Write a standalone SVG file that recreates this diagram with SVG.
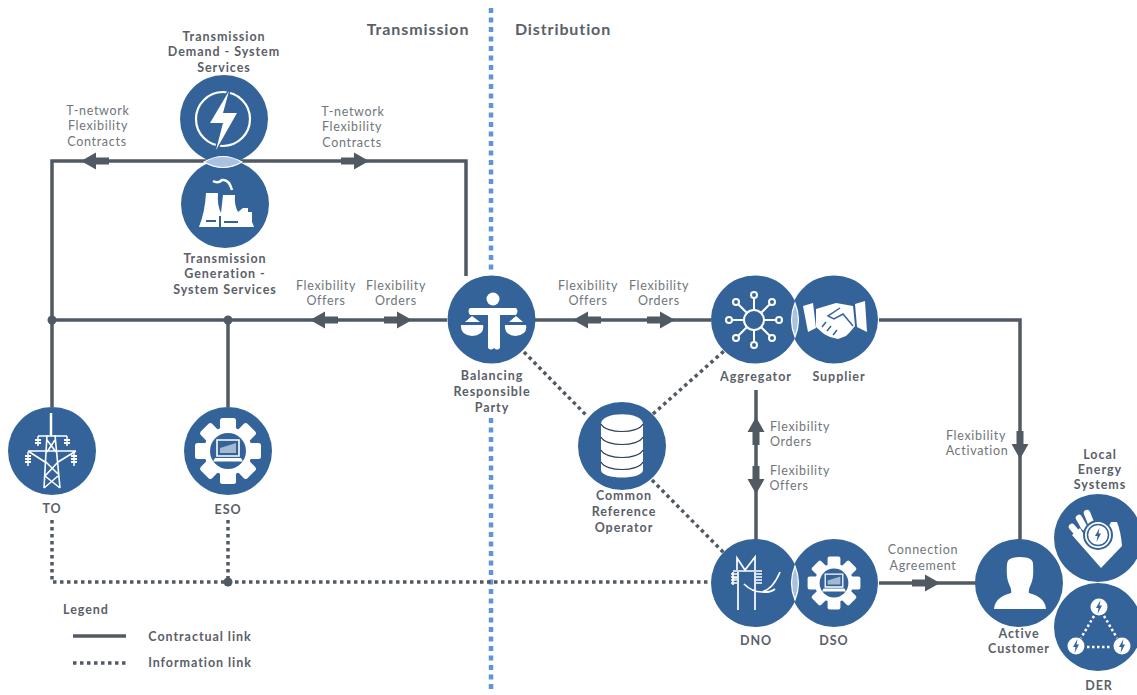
<svg xmlns="http://www.w3.org/2000/svg" xmlns:xlink="http://www.w3.org/1999/xlink" width="1137" height="695" viewBox="0 0 1137 695">
<style>
text{font-family:"Lato","Open Sans","Liberation Sans",sans-serif;text-anchor:middle}
.b{font-size:12.500px;font-weight:700;fill:#5a6068;letter-spacing:.95px}
.l{font-size:12.500px;fill:#70767c;letter-spacing:.7px}
.h{font-size:16px;font-weight:700;fill:#5a6068;letter-spacing:.9px}
.c{fill:#34639a}
.lens{fill:#a9c2e1;stroke:#fff;stroke-width:1.2}
.w{fill:#fff}
.bl{fill:#34639a}
.sw{fill:none;stroke:#fff;stroke-width:2;stroke-linecap:round;stroke-linejoin:round}
.link{fill:none;stroke:#515a63;stroke-width:3.5}
.info{fill:none;stroke:#515a63;stroke-width:3.5;stroke-dasharray:3.5 3.5}
.split{fill:none;stroke:#5f93da;stroke-width:4.5;stroke-dasharray:5 4.5}
.arr{fill:#515a63}
</style>
<defs>
<path id="arrow" d="M0,0L-15,-8.5V-3.5H-28V3.5H-15V8.5Z"/>
<g id="gear">
<g class="w">
<circle r="24"/>
<rect x="-8" y="-33" width="16" height="14" rx="2.500"/><rect x="-8" y="19" width="16" height="14" rx="2.500"/><rect x="-33" y="-8" width="14" height="16" rx="2.500"/><rect x="19" y="-8" width="14" height="16" rx="2.500"/>
<g transform="rotate(45)"><rect x="-8" y="-33" width="16" height="14" rx="2.500"/><rect x="-8" y="19" width="16" height="14" rx="2.500"/><rect x="-33" y="-8" width="14" height="16" rx="2.500"/><rect x="19" y="-8" width="14" height="16" rx="2.500"/></g>
</g>
<circle class="bl" r="18"/>
<path d="M-11,-11H11V5H-11Z" fill="none" stroke="#fff" stroke-width="1.6"/>
<path d="M-8,-3L8,-8V2H-8Z" fill="#fff" opacity=".55"/>
<path class="w" d="M-13,7H13L15,10.500H-15Z"/>
</g>
<path id="bolt" d="M1.500,-7L-3,1H-.5L-1.500,7L3,-1.500H.5Z"/>
</defs>
<rect width="1137" height="695" fill="#fff"/>

<g id="connectors">
<path class="split" d="M491,8V272"/>
<path class="split" d="M491,418V692"/>
<path class="link" d="M466,276V161H52V407"/>
<path class="link" d="M52,320H447"/>
<path class="link" d="M228,320V407"/>
<path class="link" d="M535,320H711"/>
<path class="link" d="M879,320H1020V540"/>
<path class="link" d="M756,390V540"/>
<path class="link" d="M879,583H976"/>
<path class="info" d="M52,520V582H711"/>
<path class="info" d="M228,520V582"/>
<path class="info" d="M524,352L587,416"/>
<path class="info" d="M653,414L724,351"/>
<path class="info" d="M652,480L724,553"/>
<circle class="arr" cx="52" cy="320" r="4.500"/>
<circle class="arr" cx="228" cy="320" r="4.500"/>
<circle class="arr" cx="228" cy="582" r="4.500"/>
<use class="arr" xlink:href="#arrow" href="#arrow" transform="translate(81,161) rotate(180)"/>
<use class="arr" xlink:href="#arrow" href="#arrow" transform="translate(369,161)"/>
<use class="arr" xlink:href="#arrow" href="#arrow" transform="translate(310,320) rotate(180)"/>
<use class="arr" xlink:href="#arrow" href="#arrow" transform="translate(412,320)"/>
<use class="arr" xlink:href="#arrow" href="#arrow" transform="translate(573,320) rotate(180)"/>
<use class="arr" xlink:href="#arrow" href="#arrow" transform="translate(675,320)"/>
<use class="arr" xlink:href="#arrow" href="#arrow" transform="translate(756,417) rotate(-90)"/>
<use class="arr" xlink:href="#arrow" href="#arrow" transform="translate(756,494) rotate(90)"/>
<use class="arr" xlink:href="#arrow" href="#arrow" transform="translate(1020,459) rotate(90)"/>
<use class="arr" xlink:href="#arrow" href="#arrow" transform="translate(940,583)"/>
</g>

<g id="node-demand">
<circle class="c" cx="224" cy="119" r="44"/>
<circle cx="223" cy="119" r="27" fill="none" stroke="#fff" stroke-width="2.200"/>
<path class="w" d="M229,91L210,123H223L216,150L237,113H223Z" stroke="#34639a" stroke-width="3" paint-order="stroke"/>
<text class="b"><tspan x="224" y="41">Transmission</tspan><tspan x="224" y="56">Demand - System</tspan><tspan x="224" y="72">Services</tspan></text>
</g>
<g id="node-generation">
<circle class="c" cx="225" cy="204" r="44"/>
<path class="w" d="M206,193H218Q217,205 221,213L223,195H235Q234,205 238,212L243,208H248V212H252L252,222L254,227H199Q205,212 206,193Z"/>
<path d="M213,181Q218,184 222,180Q229,179 232,190" fill="none" stroke="#fff" stroke-width="2.500"/>
<path class="bl" d="M206,220H216V222H206ZM224,221H238V223H224ZM219,216H221V227H219Z"/>
<text class="b"><tspan x="225" y="263">Transmission</tspan><tspan x="225" y="278">Generation -</tspan><tspan x="225" y="294">System Services</tspan></text>
</g>
<path class="lens" d="M204,162Q223,151 242,162Q223,173 204,162Z"/>

<g id="node-to">
<circle class="c" cx="52" cy="451" r="44"/>
<path d="M51,415V430M47,435L44,488M55,435L60,488M38,436H67M28,451H76M28,451L45,462M76,451L58,462M47,440L56,452M55,440L47,452M46,462L58,474M58,462L45,476M45,476L60,488M58,476L44,488" fill="none" stroke="#fff" stroke-width="1.600"/>
<path d="M51,413V436" stroke="#fff" stroke-width="2.500"/>
<path d="M38,436V446M67,436V446M28,452V466M74,452V466" stroke="#fff" stroke-width="1.500"/>
<path d="M35,440H41M35,443H41M64,440H70M64,443H70M25,456H31M25,459H31M25,462H31M71,456H77M71,459H77M71,462H77" stroke="#fff" stroke-width="1.800"/>
<text class="b" x="52" y="513">TO</text>
</g>
<g id="node-eso">
<circle class="c" cx="228" cy="451" r="44"/>
<use xlink:href="#gear" href="#gear" transform="translate(228,451)"/>
<text class="b" x="228" y="514">ESO</text>
</g>
<g id="node-brp">
<circle class="c" cx="491.500" cy="319.500" r="44"/>
<circle class="w" cx="493" cy="299" r="6.500"/>
<path class="w" d="M470,308H516Q519,311 516,315H500V348Q497,351 494,348Q491,351 488,348V315H470Q467,311 470,308Z"/>
<path class="w" d="M461,325H483Q485,335 472,336Q460,335 461,325ZM505,325H526Q528,335 515.500,336Q504,335 505,325Z"/>
<path class="w" d="M465,322L472,316L480,322ZM509,322L516,316L523,322Z"/>
<text class="b"><tspan x="492" y="380">Balancing</tspan><tspan x="492" y="396">Responsible</tspan><tspan x="492" y="412">Party</tspan></text>
</g>
<g id="node-cro">
<circle class="c" cx="622" cy="446" r="44"/>
<path class="w" d="M601,424C601,411 643,411 643,424V470C643,480 601,480 601,470Z"/>
<path d="M601,424C606,434 638,434 643,424M601,437C606,447 638,447 643,437M601,450C606,460 638,460 643,450M601,462C606,472 638,472 643,462" fill="none" stroke="#2f3f50" stroke-width="1.200"/>
<text class="b"><tspan x="624" y="500">Common</tspan><tspan x="624" y="516">Reference</tspan><tspan x="624" y="532">Operator</tspan></text>
</g>
<g id="node-aggregator">
<circle class="c" cx="755" cy="319.500" r="44"/>
<g class="sw" transform="translate(754,320)">
<circle r="10"/>
<path d="M10,0H22M-10,0H-22M0,10V22M0,-10V-22M7,7L15.500,15.500M-7,7L-15.500,15.500M7,-7L15.500,-15.500M-7,-7L-15.500,-15.500"/>
<circle cx="25" r="3"/><circle cx="-25" r="3"/><circle cy="25" r="3"/><circle cy="-25" r="3"/>
<circle cx="18" cy="18" r="3"/><circle cx="-18" cy="18" r="3"/><circle cx="18" cy="-18" r="3"/><circle cx="-18" cy="-18" r="3"/>
</g>
<text class="b" x="756" y="381">Aggregator</text>
</g>
<g id="node-supplier">
<circle class="c" cx="834" cy="319.500" r="44"/>
<path class="w" d="M803,306L813,303L816,328L808,332ZM855,304L865,301L867,332L857,327Z"/>
<path class="w" d="M816,309L826,306L836,303L853,306L855,326L850,332L846,336L838,339L830,337L824,334L816,327Z"/>
<path d="M840,308L828,316L834,319L843,314L853,326M822,327L826,322M827,331L831,326M833,335L837,330" fill="none" stroke="#34639a" stroke-width="1.500"/>
<text class="b" x="839" y="381">Supplier</text>
</g>
<path class="lens" d="M795,303Q788,320 795,337Q802,320 795,303Z"/>

<g id="node-dno">
<circle class="c" cx="755" cy="583" r="44"/>
<path d="M738,610V572M755,610V572M733,571H762M737,570V558L745,570L755,557V570M762,592Q773,589 780,572M744,584Q752,592 762,592Q770,593 775,589M733,572V585M733,578H737" fill="none" stroke="#fff" stroke-width="1.700"/>
<path d="M731,574H737M731,577H737M731,580H737M731,583H737M756,574H762M756,577H762M756,580H762M756,583H762" stroke="#fff" stroke-width="1.300"/>
<text class="b" x="756" y="645">DNO</text>
</g>
<g id="node-dso">
<circle class="c" cx="834" cy="583" r="44"/>
<use xlink:href="#gear" href="#gear" transform="translate(834,583) scale(.8)"/>
<text class="b" x="834" y="645">DSO</text>
</g>
<path class="lens" d="M795,566Q788,583 795,600Q802,583 795,566Z"/>

<g id="node-customer">
<circle class="c" cx="1019" cy="583" r="44"/>
<path class="w" d="M1007,564Q1007,557 1020,557Q1033,557 1033,564Q1034,578 1031,584Q1028,590 1029,593Q1045,597 1046,609H994Q995,597 1011,593Q1012,590 1009,584Q1006,578 1007,564Z"/>
<text class="b"><tspan x="1019" y="638">Active</tspan><tspan x="1019" y="653">Customer</tspan></text>
</g>
<g id="node-les">
<circle class="c" cx="1098" cy="538" r="44"/>
<path class="w" d="M1072,535L1101,568L1122,546Q1121,532 1117,522L1111,522L1107,530L1090,545L1080,528Z"/>
<path d="M1078,534L1072,527M1084,527L1079,518M1091,523L1087,513" stroke="#fff" stroke-width="6.500" stroke-linecap="round"/>
<circle class="w" cx="1098" cy="535" r="14" stroke="#34639a" stroke-width="2"/>
<circle cx="1098" cy="535" r="10.500" fill="none" stroke="#34639a" stroke-width="1.500"/>
<use class="bl" xlink:href="#bolt" href="#bolt" transform="translate(1098,535)"/>
<text class="b"><tspan x="1100" y="459">Local</tspan><tspan x="1100" y="474">Energy</tspan><tspan x="1100" y="489">Systems</tspan></text>
</g>
<g id="node-der">
<circle class="c" cx="1098" cy="627" r="44"/>
<path d="M1094,616L1081,638M1104,616L1117,638M1087,647H1112" fill="none" stroke="#fff" stroke-width="2.500" stroke-dasharray="2.500 2.500"/>
<circle class="w" cx="1099" cy="607" r="8.500"/><circle class="w" cx="1076" cy="646" r="8.500"/><circle class="w" cx="1122" cy="646" r="8.500"/>
<use class="bl" xlink:href="#bolt" href="#bolt" transform="translate(1099,607)"/>
<use class="bl" xlink:href="#bolt" href="#bolt" transform="translate(1076,646)"/>
<use class="bl" xlink:href="#bolt" href="#bolt" transform="translate(1122,646)"/>
<text class="b" x="1099" y="690">DER</text>
</g>

<g id="labels">
<text class="h" x="418" y="35">Transmission</text>
<text class="h" x="563" y="35">Distribution</text>
<text class="l"><tspan x="98" y="115">T-network</tspan><tspan x="98" y="130">Flexibility</tspan><tspan x="97" y="146">Contracts</tspan></text>
<text class="l"><tspan x="353" y="116">T-network</tspan><tspan x="352" y="131">Flexibility</tspan><tspan x="352" y="147">Contracts</tspan></text>
<text class="l"><tspan x="326" y="290">Flexibility</tspan><tspan x="326" y="305">Offers</tspan></text>
<text class="l"><tspan x="396" y="290">Flexibility</tspan><tspan x="396" y="305">Orders</tspan></text>
<text class="l"><tspan x="588" y="290">Flexibility</tspan><tspan x="588" y="305">Offers</tspan></text>
<text class="l"><tspan x="659" y="290">Flexibility</tspan><tspan x="659" y="305">Orders</tspan></text>
<text class="l"><tspan x="800" y="431">Flexibility</tspan><tspan x="791" y="446">Orders</tspan></text>
<text class="l"><tspan x="800" y="475">Flexibility</tspan><tspan x="789" y="490">Offers</tspan></text>
<text class="l"><tspan x="976" y="440">Flexibility</tspan><tspan x="977" y="455">Activation</tspan></text>
<text class="l"><tspan x="923" y="554">Connection</tspan><tspan x="923" y="570">Agreement</tspan></text>
</g>

<g id="legend">
<text class="b" x="86" y="614">Legend</text>
<path class="link" d="M73,636H126"/>
<path class="info" d="M73,663H126"/>
<text class="b" x="200" y="641">Contractual link</text>
<text class="b" x="200" y="667">Information link</text>
</g>
</svg>
